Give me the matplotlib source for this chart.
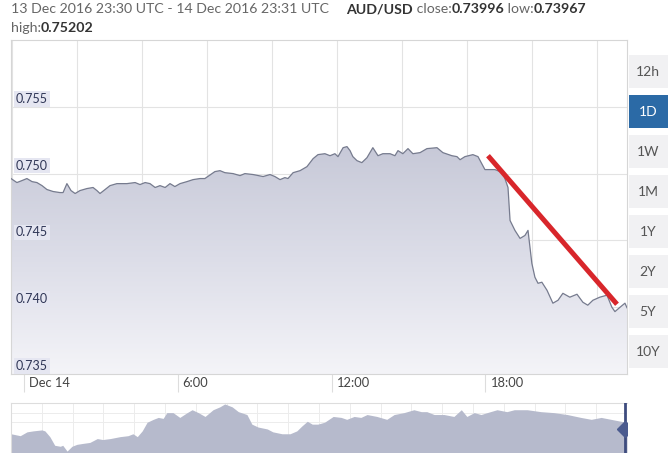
import numpy as np
import matplotlib.pyplot as plt
from matplotlib.patches import Rectangle
from matplotlib.text import Annotation
from matplotlib.colors import LinearSegmentedColormap

plt.rcParams['font.family'] = ['Lato', 'DejaVu Sans']

# AUD/USD, 13 Dec 23:30 UTC - 14 Dec 23:31 UTC (hours since Dec 14 00:00)
hours = [-0.50, -0.27, -0.07, 0.12, 0.32, 0.51, 0.71, 0.90, 1.14, 1.41, 1.53, 1.68, 1.84,
         2.00, 2.19, 2.46, 2.70, 2.85, 2.97, 3.17, 3.36, 3.63, 4.02, 4.34, 4.53, 4.73,
         4.92, 5.12, 5.31, 5.51, 5.70, 5.89, 6.09, 6.36, 6.60, 6.87, 7.06, 7.45, 7.65,
         7.84, 8.16, 8.43, 8.62, 8.94, 9.33, 9.60, 9.79, 9.99, 10.18, 10.30, 10.50, 10.77,
         11.04, 11.28, 11.47, 11.74, 11.94, 12.13, 12.25, 12.45, 12.60, 12.72, 12.83,
         12.99, 13.18, 13.38, 13.61, 13.81, 14.00, 14.28, 14.47, 14.59, 14.78, 14.98,
         15.17, 15.45, 15.72, 16.11, 16.34, 16.69, 16.89, 17.01, 17.20, 17.51, 17.71,
         17.98, 18.37, 18.68, 18.88, 18.96, 19.15, 19.35, 19.54, 19.66, 19.81, 19.93,
         20.05, 20.20, 20.40, 20.63, 20.83, 21.02, 21.29, 21.57, 21.80, 21.99, 22.19,
         22.46, 22.74, 22.93, 23.05, 23.25, 23.44, 23.52]
price = [0.74963, 0.74933, 0.74948, 0.74963, 0.74940, 0.74933, 0.74910, 0.74881, 0.74866,
         0.74858, 0.74858, 0.74925, 0.74873, 0.74851, 0.74873, 0.74888, 0.74896, 0.74873,
         0.74851, 0.74881, 0.74910, 0.74925, 0.74925, 0.74933, 0.74918, 0.74933, 0.74925,
         0.74896, 0.74910, 0.74896, 0.74925, 0.74903, 0.74925, 0.74940, 0.74955, 0.74963,
         0.74963, 0.75015, 0.75022, 0.75007, 0.75000, 0.74985, 0.75000, 0.74993, 0.74978,
         0.74993, 0.74978, 0.74955, 0.74970, 0.74963, 0.75007, 0.75022, 0.75052, 0.75112,
         0.75142, 0.75149, 0.75134, 0.75149, 0.75127, 0.75194, 0.75202, 0.75172, 0.75127,
         0.75097, 0.75082, 0.75119, 0.75194, 0.75134, 0.75149, 0.75149, 0.75134, 0.75172,
         0.75149, 0.75187, 0.75149, 0.75157, 0.75187, 0.75194, 0.75157, 0.75134, 0.75127,
         0.75104, 0.75127, 0.75142, 0.75127, 0.75030, 0.75030, 0.75007, 0.74896, 0.74649,
         0.74575, 0.74515, 0.74537, 0.74575, 0.74328, 0.74224, 0.74179, 0.74187, 0.74127,
         0.74030, 0.74052, 0.74104, 0.74075, 0.74097, 0.74037, 0.74015, 0.74052, 0.74075,
         0.74090, 0.74000, 0.73967, 0.74000, 0.74030, 0.73996]

# hand-drawn red trend line (start, end)
trend_hours = [18.10, 23.13]
trend_price = [0.75134, 0.74022]

y_ticks = [0.735, 0.740, 0.745, 0.750, 0.755]
x_ticks = [0, 6, 12, 18]
x_labels = ['Dec 14', '6:00', '12:00', '18:00']
ranges = ['12h', '1D', '1W', '1M', '1Y', '2Y', '5Y', '10Y']

# navigator overview (position 0-100 along the strip, relative level)
nav_pos = [0.0, 1.5, 2.6, 3.6, 5.0, 5.5, 6.3, 7.1, 8.0, 8.4,
           9.1, 9.9, 10.7, 11.7, 12.8, 14.0, 14.9, 16.1, 17.7, 19.0,
           19.8, 20.5, 21.3, 22.1, 23.1, 23.9, 24.7, 25.3, 26.3, 27.4,
           28.6, 29.4, 30.4, 31.5, 32.8, 33.9, 34.7, 35.9, 36.9, 38.3,
           39.1, 40.1, 41.6, 42.5, 44.0, 45.3, 46.4, 47.2, 48.1, 48.9,
           49.8, 50.9, 52.3, 53.6, 54.5, 55.7, 56.8, 57.8, 59.4, 61.0,
           62.2, 63.8, 65.4, 66.6, 67.5, 68.7, 70.3, 71.9, 73.1, 74.0,
           75.2, 76.3, 77.3, 78.9, 80.5, 81.7, 83.8, 86.0, 88.1, 90.3,
           92.5, 94.2, 95.8, 97.4, 99.0, 100.0]
nav_level = [18, 16, 20, 21, 22, 21, 15, 6, 5, 6,
             0, 5, 7, 8, 9, 13, 12, 13, 15, 16,
             18, 15, 21, 30, 33, 35, 34, 40, 40, 35,
             40, 43, 40, 36, 43, 46, 49, 46, 41, 38,
             28, 25, 23, 20, 18, 18, 21, 26, 31, 28,
             28, 30, 36, 35, 33, 36, 35, 38, 36, 33,
             38, 40, 43, 41, 41, 38, 38, 36, 43, 36,
             40, 38, 40, 43, 41, 43, 43, 41, 40, 38,
             35, 33, 35, 33, 31, 30]

W, H = 668, 453
x_min, x_max = -0.5, 23.52
y_min, y_max = 0.735, 0.760
hdr_size = 10.2


def px_box(x0, y0, x1, y1):
    # pixel box (origin top-left) -> figure fraction rect
    return [x0 / W, 1 - y1 / H, (x1 - x0) / W, (y1 - y0) / H]


def chain(prev, s, bold):
    # place a text piece right after the previous one
    return fig.add_artist(Annotation(s, xy=(1, 0.5), xycoords=prev, va='center', ha='left',
                                     fontsize=hdr_size, fontweight='bold' if bold else 'normal',
                                     color='#333333' if bold else '#666666'))


fig = plt.figure(figsize=(W / 100, H / 100), dpi=100)

# header
fig.text(11 / W, 1 - 9 / H, '13 Dec 2016 23:30 UTC - 14 Dec 2016 23:31 UTC',
         va='center', fontsize=hdr_size, color='#666666')
prev = fig.text(346 / W, 1 - 9 / H, 'AUD/USD', va='center', fontsize=hdr_size,
                fontweight='bold', color='#333333')
for s, bold in [(' close:', False), ('0.73996', True), (' low:', False), ('0.73967', True)]:
    prev = chain(prev, s, bold)
h1 = fig.text(11 / W, 1 - 28 / H, 'high:', va='center', fontsize=hdr_size, color='#666666')
chain(h1, '0.75202', True)

# main price chart
ax = fig.add_axes(px_box(11, 40, 627, 374))
fill = ax.fill_between(hours, price, y_min, color='none', lw=0)
cmap = LinearSegmentedColormap.from_list('xe', ['#f4f4f8', '#dcdde8', '#c6c8d7'])
grad = np.linspace(0, 1, 256).reshape(-1, 1)
img = ax.imshow(grad, extent=[x_min, x_max, y_min, 0.7525], origin='lower',
                aspect='auto', cmap=cmap, zorder=1)
img.set_clip_path(fill.get_paths()[0], transform=ax.transData)
ax.plot(hours, price, color='#767b8e', lw=0.9, zorder=3)
ax.plot(trend_hours, trend_price, color='#d8262b', lw=3.6, solid_capstyle='butt', zorder=5)

ax.set_xlim(x_min, x_max)
ax.set_ylim(y_min, y_max)

# vertical grid every ~2.5h, horizontal at price ticks
grid_x = x_min + 0.04 + np.arange(10) * 2.534
for gx in grid_x:
    ax.axvline(gx, color='#e3e3e3', lw=0.8, zorder=0)
for gy in y_ticks[1:]:
    ax.axhline(gy, color='#e3e3e3', lw=0.8, zorder=0)

ax.set_yticks([])
ax.set_xticks(x_ticks)
ax.set_xticklabels([])
ax.tick_params(axis='x', direction='out', length=13, width=0.8, color='#dddddd')
for sp in ax.spines.values():
    sp.set_color('#d6d6d6')
    sp.set_linewidth(0.8)

for xt, lab in zip(x_ticks, x_labels):
    ax.annotate(lab, xy=(xt, 0), xycoords=('data', 'axes fraction'), xytext=(5, -9),
                textcoords='offset pixels', ha='left', va='center', fontsize=9.3,
                color='#444444', annotation_clip=False)

for yt in y_ticks:
    ax.annotate(f'{yt:.3f}', xy=(0, yt), xycoords=('axes fraction', 'data'), xytext=(5, 8),
                textcoords='offset pixels', ha='left', va='center', fontsize=9,
                color='#2f3656', zorder=6,
                bbox=dict(boxstyle='square,pad=0.15', fc='#e5e6f1', ec='none'))

# range buttons on the right
for i, lab in enumerate(ranges):
    y0 = 55 + i * 40
    active = lab == '1D'
    fig.add_artist(Rectangle((629 / W, 1 - (y0 + 33) / H), 39 / W, 33 / H,
                             transform=fig.transFigure,
                             fc='#2b6aa6' if active else '#f1f1f3', ec='none'))
    fig.text(648 / W, 1 - (y0 + 17) / H, lab, ha='center', va='center', fontsize=10,
             color='white' if active else '#555555')

# navigator strip
nav = fig.add_axes(px_box(11, 403, 627, 453))
nav.fill_between(nav_pos, nav_level, -5, color='#b6bacc', lw=0)
nav.set_xlim(0, 100)
nav.set_ylim(-2, 50)
for gx in np.arange(5, 100, 5):
    nav.axvline(gx, color='#ececec', lw=0.7, zorder=0)
for gy in [30, 40]:
    nav.axhline(gy, color='#ececec', lw=0.7, zorder=0)
nav.axvline(99.7, color='#3e4c7e', lw=2, zorder=4)
nav.plot([99.7], [23], marker='D', ms=8, color='#4b5b8f', zorder=5)
nav.set_xticks([])
nav.set_yticks([])
for name, sp in nav.spines.items():
    sp.set_visible(name in ('top', 'left'))
    sp.set_color('#dddddd')

fig.savefig('out.png', dpi=100)
